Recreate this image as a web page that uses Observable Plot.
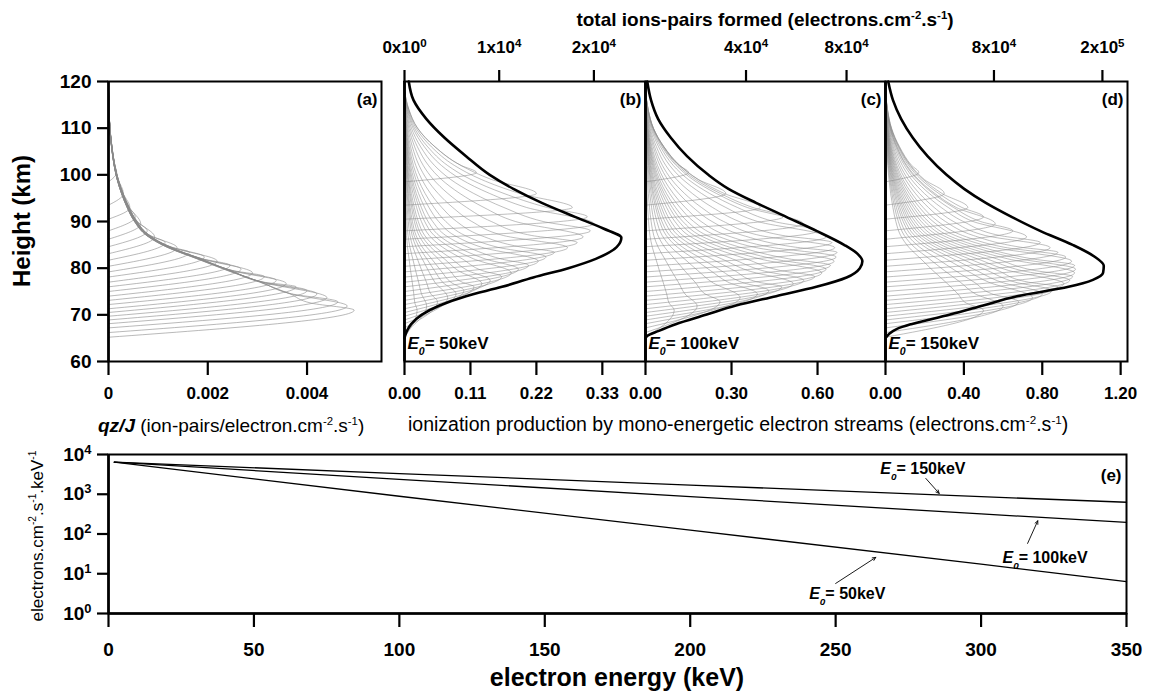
<!DOCTYPE html>
<html><head><meta charset="utf-8">
<script src="https://cdn.jsdelivr.net/npm/d3@7"></script>
<script src="https://cdn.jsdelivr.net/npm/@observablehq/plot@0.6"></script>
<style>
body{margin:0;background:#fff;}
#wrap{position:relative;width:1151px;height:691px;font-family:"Liberation Sans",Arial,sans-serif;color:#000;overflow:hidden;}
#wrap svg{position:absolute;left:0;}
.lbl{position:absolute;white-space:nowrap;line-height:1;}
.lbl sup{font-size:0.6em;vertical-align:0.6em;line-height:0;}
</style></head><body><div id="wrap"></div>
<script>
// ---------- data ----------
const heightTicks=[60,70,80,90,100,110,120];
const qzTicks=[0,0.002,0.004];
const bTicks=[0,0.11,0.22,0.33], cTicks=[0,0.3,0.6], dTicks=[0,0.4,0.8,1.2];
const topTicksB=[0,1e4,2e4], topTicksC=[4e4,8e4], topTicksD=[8e4,1.6e5];
const energyTicks=[0,50,100,150,200,250,300,350];
const fluxTicks=[1,10,100,1000,10000];

// per mono-energetic stream: peak height, height where curve returns to 0, peak values
const peakH=[100.5,96,93,91,89.5,88,86.7,85.5,84.4,83.4,82.4,81.5,80.6,79.8,79,78.2,77.4,76.7,76,75.2,74.5,73.7,72.8,71.9,71];
const zeroH=[98.5,93.5,90.5,88,86.2,84.6,83.1,81.7,80.4,79.2,78.1,77,76,75,74,73.1,72.2,71.3,70.5,69.7,68.9,68.1,67.2,66.2,65.2];
const peakA=[0.000165,0.0003,0.00043,0.00054,0.00065,0.00078,0.00093,0.00114,0.00138,0.00163,0.00193,0.00219,0.00245,0.00267,0.0029,0.00314,0.00338,0.00358,0.00378,0.004,0.0042,0.0044,0.00462,0.00481,0.00495];
const tailA=[1,0.99,0.985,0.98,0.975,0.97,0.962,0.955,0.95,0.944,0.938,0.932,0.926,0.92,0.915,0.91,0.905,0.9,0.895,0.89,0.886,0.882,0.878,0.874,0.87];
const peakB=[0.12,0.22,0.28,0.305,0.316,0.31,0.298,0.288,0.272,0.25,0.236,0.223,0.207,0.19,0.178,0.162,0.143,0.129,0.116,0.099,0.086,0.072,0.055,0.037,0.021];
const peakC=[0.15,0.28,0.4,0.48,0.55,0.6,0.63,0.65,0.66,0.668,0.665,0.658,0.645,0.63,0.615,0.59,0.552,0.515,0.475,0.43,0.39,0.33,0.26,0.18,0.1];
const peakD=[0.17,0.3,0.42,0.5,0.56,0.65,0.72,0.79,0.84,0.88,0.92,0.95,0.965,0.97,0.965,0.955,0.94,0.91,0.88,0.85,0.8,0.75,0.68,0.6,0.5];
// upper (shared) part of the qz/J profiles
const envH=[118,114,110,106,102,99,96,93,90,87,84.5,82,79.5,77,74.5,72.5,71];
const envV=[0,0.00001,0.00003,0.00007,0.00013,0.0002,0.0003,0.00043,0.0006,0.00088,0.00135,0.00205,0.00275,0.0035,0.0042,0.0047,0.00495];
// total ion-pairs (thick black curves)
const totHB=[120,116,112,108,104,100,97,94,91,88.5,86.5,84.5,82,80,78,76,74,72,70,68,66.5,65.5,65];
const totVB=[450,950,2300,4200,6500,9000,11500,14500,18000,21000,22900,22400,20200,17300,13600,10300,6500,3700,1800,700,250,60,0];
const totHC=[120,116,112,108,104,100,97,94,91,88,85,83,81.5,80,78,76,74,72,70,68,66.5,65.5,65];
const totVC=[700,2200,5000,10000,16500,25000,33000,44000,56000,68000,79000,84500,86300,85300,80000,68000,52000,36000,24000,12000,5000,800,0];
const totHD=[120,116,112,108,104,100,97,94,91,88,85,82.5,80.5,79,77.5,76,74,72,70,68,67,66,65.2];
const totVD=[2000,5500,11500,20000,31000,45000,58000,74000,93000,114000,138000,154000,161000,160500,153000,135000,97000,72000,47000,19000,8500,3000,500];
// panel (e) spectra
const energy=[2,100,200,300,350];
const flux50=[6400,890,125,17.5,6.3];
const flux100=[6400,2380,875,320,195];
const flux150=[6400,3320,1700,870,630];
const specLabels=[{x:280,y:4470,t:"*E*_{0}= 150keV"},{x:322,y:24.4,t:"*E*_{0}= 100keV"},{x:254,y:3.2,t:"*E*_{0}= 50keV"}];
const specArrows=[{x1:281,y1:2500,x2:285.6,y2:1050},{x1:316,y1:58,x2:319.5,y2:215},{x1:250,y1:5.7,x2:263.8,y2:25.8}];

// ---------- helpers ----------
const wrap=document.getElementById("wrap");
const FONT="'Liberation Sans', Arial, sans-serif";
const W=1151;
function grayRows(peaks){
  const rows=[];
  peakH.forEach((hp,i)=>{
    const f=peaks?peaks[i]/peakA[i]:1;
    const pts=[{id:i,v:0,h:zeroH[i]},{id:i,v:peakA[i]*f,h:hp}];
    envH.forEach((h,k)=>{if(h>hp+0.8)pts.push({id:i,v:envV[k]*tailA[i]*f,h});});
    pts.sort((a,b)=>a.h-b.h);
    rows.push(...pts);
  });
  return rows;
}
const totRows=(H,V)=>H.map((h,i)=>({h,v:V[i]}));
function richSvg(svg){
  for(const t of svg.querySelectorAll("text")){
    const els=t.querySelector("tspan")?[...t.querySelectorAll("tspan")]:[t];
    for(const el of els){
      const s=el.textContent;
      if(!/\^\{|_\{|\*/.test(s))continue;
      el.textContent="";
      for(const p of s.split(/(\^\{[^}]*\}|_\{[^}]*\}|\*[^*]*\*)/)){
        if(!p)continue;
        const ts=document.createElementNS("http://www.w3.org/2000/svg","tspan");
        if(p.startsWith("^{")){ts.textContent=p.slice(2,-1);ts.setAttribute("baseline-shift","super");ts.setAttribute("font-size","68%");}
        else if(p.startsWith("_{")){ts.textContent=p.slice(2,-1);ts.setAttribute("baseline-shift","sub");ts.setAttribute("font-size","62%");ts.setAttribute("font-style","italic");}
        else if(p.startsWith("*")){ts.textContent=p.slice(1,-1);ts.setAttribute("font-style","italic");}
        else ts.textContent=p;
        el.appendChild(ts);
      }
    }
  }
}
function place(svg,top){svg.style.top=top+"px";richSvg(svg);wrap.appendChild(svg);}
function label(html,x,y,o={}){
  const d=document.createElement("div");d.className="lbl";d.innerHTML=html;
  d.style.left=x+"px";d.style.top=y+"px";d.style.fontSize=(o.size||16)+"px";
  d.style.fontWeight=o.bold?"bold":"normal";
  d.style.transform=`translate(${o.anchor==="start"?"0":"-50%"},-50%)`+(o.rotate?` rotate(${o.rotate}deg)`:"");
  wrap.appendChild(d);
}
const sci=d=>{if(d===0)return "0x10^{0}";let e=Math.floor(Math.log10(d));let m=Math.round(d/10**e);if(m===10){m=1;e++;}return `${m}x10^{${e}}`;};
const style={background:"transparent",fontFamily:FONT,fontWeight:"bold",color:"#000",overflow:"visible"};
const GRAY="#8a8a8a";

// ---------- top row geometry ----------
const TOP_H=420, mT=81, mB=TOP_H-361;
function rowPlot(x0,x1,domain,marks){
  return Plot.plot({width:W,height:TOP_H,marginLeft:x0,marginRight:W-x1,marginTop:mT,marginBottom:mB,
    style,x:{domain,axis:null},y:{domain:[60,120],axis:null},marks});
}
// (a)
place(rowPlot(108,381,[0,0.0055],[
  Plot.line(grayRows(null),{x:"v",y:"h",z:"id",curve:"monotone-y",stroke:GRAY,strokeWidth:0.6}),
  Plot.frame({stroke:"#000",strokeWidth:2}),
  Plot.ruleX([0],{stroke:"#000",strokeWidth:2.6}),
  Plot.axisY({ticks:heightTicks,tickSize:11,tickPadding:6,fontSize:19,strokeWidth:2.2,label:null,tickFormat:d=>d}),
  Plot.axisX({ticks:qzTicks,tickSize:14,tickPadding:11,fontSize:17,strokeWidth:2.2,label:null,tickFormat:d=>d===0?"0":d.toFixed(3)}),
  Plot.text(["(a)"],{frameAnchor:"top-right",dx:-4,dy:11,fontSize:17,fontWeight:"bold"})
]),0);
// (b),(c),(d)
const panels=[
  {x0:404,x1:645,dom:[0,0.402],ticks:bTicks,peaks:peakB,lab:"(b)",e:"*E*_{0}= 50keV",
   top:[0,25450],tticks:topTicksB,H:totHB,V:totVB},
  {x0:645,x1:885,dom:[0,0.837],ticks:cTicks,peaks:peakC,lab:"(c)",e:"*E*_{0}= 100keV",
   top:[0,95500],tticks:topTicksC,H:totHC,V:totVC},
  {x0:885,x1:1127,dom:[0,1.235],ticks:dTicks,peaks:peakD,lab:"(d)",e:"*E*_{0}= 150keV",
   top:[0,178500],tticks:topTicksD,H:totHD,V:totVD}
];
for(const p of panels){
  place(rowPlot(p.x0,p.x1,p.dom,[
    Plot.line(grayRows(p.peaks),{x:"v",y:"h",z:"id",curve:"monotone-y",stroke:GRAY,strokeWidth:0.55}),
    Plot.frame({stroke:"#000",strokeWidth:2}),
    Plot.ruleX([0],{stroke:"#000",strokeWidth:2.8}),
    Plot.axisX({ticks:p.ticks,tickSize:14,tickPadding:11,fontSize:17,strokeWidth:2.2,label:null,tickFormat:d=>d.toFixed(2)}),
    Plot.text([p.lab],{frameAnchor:"top-right",dx:-4,dy:11,fontSize:17,fontWeight:"bold"}),
    Plot.text([p.e],{frameAnchor:"bottom-left",dx:3,dy:-13,fontSize:17,fontWeight:"bold",textAnchor:"start"})
  ]),0);
  place(rowPlot(p.x0,p.x1,p.top,[
    Plot.line(totRows(p.H,p.V),{x:"v",y:"h",curve:"monotone-y",stroke:"#000",strokeWidth:2.6}),
    Plot.axisX({anchor:"top",ticks:p.tticks,tickSize:12,tickPadding:17,fontSize:17,strokeWidth:2.2,label:null,tickFormat:sci})
  ]),0);
}

// ---------- panel (e) ----------
const E_TOP=420;
const specRows=[];
energy.forEach((e,i)=>{specRows.push({s:"50",e,f:flux50[i]});});
energy.forEach((e,i)=>{specRows.push({s:"100",e,f:flux100[i]});});
energy.forEach((e,i)=>{specRows.push({s:"150",e,f:flux150[i]});});
place(Plot.plot({width:W,height:691-E_TOP,marginLeft:108,marginRight:W-1126,marginTop:454-E_TOP,marginBottom:691-613,
  style,x:{domain:[0,350],axis:null},y:{type:"log",domain:[1,1e4],axis:null},
  marks:[
    Plot.line(specRows,{x:"e",y:"f",z:"s",stroke:"#000",strokeWidth:1.3}),
    Plot.arrow(specArrows,{x1:"x1",y1:"y1",x2:"x2",y2:"y2",stroke:"#000",strokeWidth:0.9,headLength:6,headAngle:50}),
    Plot.text(specLabels,{x:"x",y:"y",text:"t",fontSize:16,fontWeight:"bold"}),
    Plot.frame({stroke:"#000",strokeWidth:2}),
    Plot.ruleX([0],{stroke:"#000",strokeWidth:2.6}),
    Plot.ruleY([1],{stroke:"#000",strokeWidth:2.6}),
    Plot.axisY({ticks:fluxTicks,tickSize:11,tickPadding:6,fontSize:19,strokeWidth:2.2,label:null,tickFormat:d=>`10^{${Math.round(Math.log10(d))}}`}),
    Plot.axisX({ticks:energyTicks,tickSize:14,tickPadding:15,fontSize:19,strokeWidth:2.2,label:null,tickFormat:d=>d}),
    Plot.text(["(e)"],{frameAnchor:"top-right",dx:-5,dy:14,fontSize:17,fontWeight:"bold"})
  ]}),E_TOP);

// ---------- titles / captions ----------
label("total ions-pairs formed (electrons.cm<sup>-2</sup>.s<sup>-1</sup>)",765,19,{size:19,bold:true});
label("Height (km)",22,221,{size:24,bold:true,rotate:-90});
label("<b><i>qz/J</i></b> (ion-pairs/electron.cm<sup>-2</sup>.s<sup>-1</sup>)",98,425,{size:19,anchor:"start"});
label("ionization production by mono-energetic electron streams (electrons.cm<sup>-2</sup>.s<sup>-1</sup>)",408,425,{size:19.5,anchor:"start"});
label("electrons.cm<sup>-2</sup>.s<sup>-1</sup>.keV<sup>-1</sup>",37,536,{size:17,rotate:-90});
label("electron energy (keV)",617,677,{size:25,bold:true});
</script></body></html>
